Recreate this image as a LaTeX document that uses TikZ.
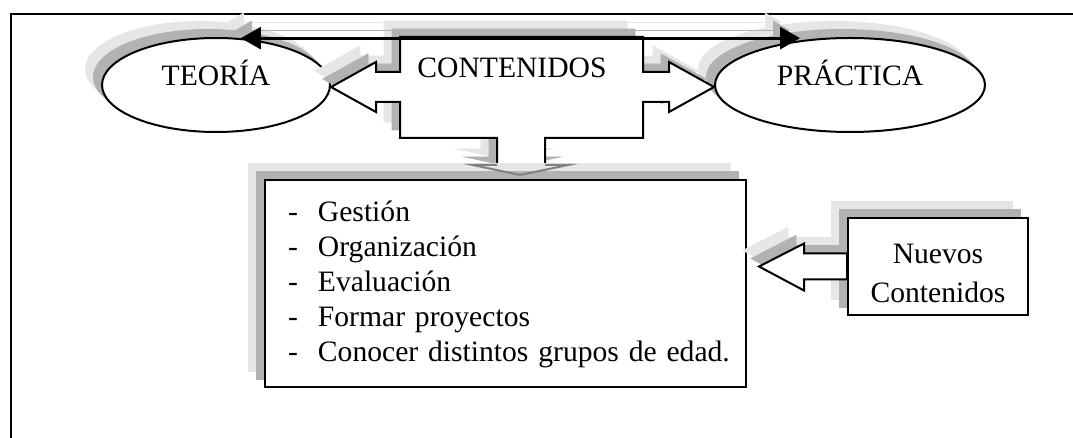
\documentclass[tikz,border=0pt]{standalone}
\usepackage{fontspec}
\setmainfont{Liberation Serif}
\usetikzlibrary{shapes.geometric,arrows.meta,calc}
\definecolor{shadeDark}{RGB}{178,178,178}
\definecolor{shadeLight}{RGB}{230,230,230}
\definecolor{headGray}{RGB}{128,128,128}
\newcommand{\diaFont}{\fontsize{14.8}{17.5}\selectfont}
\newcommand{\itemDash}{\makebox[15pt][l]{-}}
\tikzset{
  wordShadow/.style={
    preaction={draw=shadeLight,fill=shadeLight,transform canvas={shift={(-8pt,8pt)}}},
    preaction={draw=shadeDark,fill=shadeDark,transform canvas={shift={(-4pt,4pt)}}}},
  lineShadow/.style={
    preaction={draw=shadeLight,transform canvas={shift={(-8pt,8pt)}}},
    preaction={draw=shadeDark,transform canvas={shift={(-4pt,4pt)}}}},
  bubble/.style={ellipse,draw,fill=white,line width=1pt,inner sep=0pt,text depth=12pt,font=\diaFont,wordShadow},
  plainBox/.style={rectangle,draw,fill=white,line width=1pt,font=\diaFont,wordShadow},
  blockArrow/.style={draw,fill=white,line width=1pt,line join=miter,wordShadow}
}

\begin{document}
\begin{tikzpicture}[x=0.5pt,y=-0.5pt]
\useasboundingbox (0,0) rectangle (1073,438);
\draw[line width=1pt] (11,438) -- (11,14) -- (1073,14);
% las dos elipses
\node[bubble,minimum width=114pt,minimum height=47pt] (teoria) at (216,85) {TEORÍA};
\node[bubble,minimum width=135pt,minimum height=47pt] (practica) at (850,85) {PRÁCTICA};
% flecha de bloque de los contenidos
\coordinate (tipY) at (0,87);
\draw[blockArrow] (400,37) -- (643,37) -- (643,72) -- (669,72) -- (669,62) -- (practica.west |- tipY)
  -- (669,112) -- (669,102) -- (643,102) -- (643,138) -- (545,138) -- (545,165) -- (568,165)
  -- (520,175) -- (473,165) -- (497,165) -- (497,138) -- (400,138) -- (400,102) -- (376,102)
  -- (376,112) -- (teoria.east |- tipY) -- (376,62) -- (376,72) -- (400,72) -- cycle;
\node[font=\diaFont] (contenidos) at (512,68) {CONTENIDOS};
\draw[line width=1.5pt,{Triangle[length=10pt,width=11pt]}-{Triangle[length=10pt,width=11pt]},lineShadow]
  (teoria.62) -- ($(teoria.62 -| practica.north)+(-50,0)$);
% lista de temas
\node[plainBox,minimum width=240.5pt,minimum height=103.5pt,text width=217.5pt,align=left,inner xsep=11.5pt] (temas) at (505.5,284) {\itemDash Gestión\\
\itemDash Organización\\
\itemDash Evaluación\\
\itemDash Formar proyectos\\
\mbox{\itemDash Conocer distintos grupos de edad.}};
\draw[headGray,line width=1pt] (497,165) -- (473,165) -- (520,175) -- (568,165) -- (545,165);
% nuevos contenidos
\node[plainBox,minimum width=90pt,minimum height=48.5pt,align=center,inner sep=2pt,font=\fontsize{14.8}{19.5}\selectfont] (nuevos) at (938,266.5) {\rule{0pt}{17pt}Nuevos\\Contenidos};
\draw[blockArrow] ($(nuevos.west)+(0,-13)$) -- ++(-43,0) -- ++(0,-10) -- ($(nuevos.west)+(-88,0)$)
  -- ++(45,24) -- ++(0,-11) -- ($(nuevos.west)+(0,13)$) -- cycle;
\end{tikzpicture}
\end{document}
